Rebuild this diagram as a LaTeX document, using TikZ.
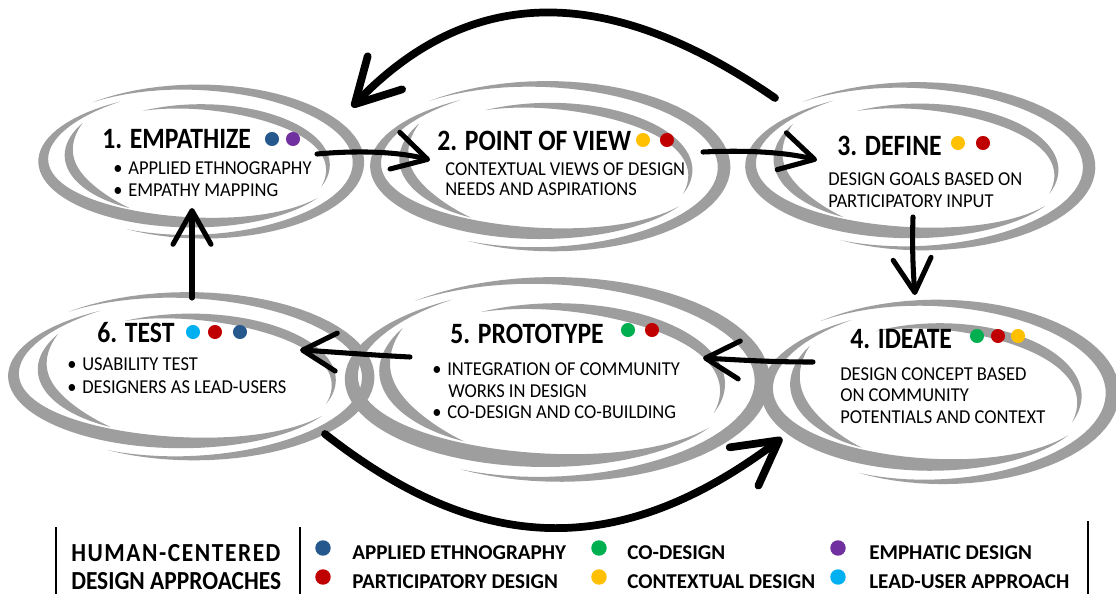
\documentclass[tikz,border=0pt]{standalone}
\usepackage{fontspec}
\setmainfont{Carlito}
\usetikzlibrary{arrows.meta}

\definecolor{swirlgray}{RGB}{158,158,158}
\definecolor{ethno}{RGB}{37,88,140}
\definecolor{partic}{RGB}{192,0,0}
\definecolor{codes}{RGB}{0,176,80}
\definecolor{context}{RGB}{255,192,0}
\definecolor{emphat}{RGB}{112,48,160}
\definecolor{leaduser}{RGB}{0,176,240}

% one tapered grey band of a spiral:
% centre x, centre y, radius x, radius y, from, to, width, scale at from, scale at to
\newcommand{\crescent}[9]{%
  \fill[swirlgray] plot[domain=#5:#6,samples=60,variable=\t]
      ({#1+(#8+(#9-#8)*(\t-(#5))/((#6)-(#5)))*#3*cos(\t)},
       {#2-(#8+(#9-#8)*(\t-(#5))/((#6)-(#5)))*#4*sin(\t)})
    -- plot[domain=#6:#5,samples=60,variable=\t]
      ({#1+((#8+(#9-#8)*(\t-(#5))/((#6)-(#5)))*#3-#7*sin((\t-(#5))/((#6)-(#5))*180))*cos(\t)},
       {#2-((#8+(#9-#8)*(\t-(#5))/((#6)-(#5)))*#4-#7*sin((\t-(#5))/((#6)-(#5))*180))*sin(\t)}) -- cycle;}

% four bands make one swirl: centre x, centre y, radius x, radius y
\newcommand{\swirl}[4]{%
  \crescent{#1}{#2-0.02*#4}{#3}{#4}{-118}{130}{0.15*#4}{0.98}{1.05}
  \crescent{#1}{#2}{0.97*#3}{0.86*#4}{118}{326}{0.17*#4}{1.1}{0.9}
  \crescent{#1}{#2}{0.8*#3}{0.8*#4}{-21}{117}{0.12*#4}{1}{1}
  \crescent{#1}{#2}{#3}{#4}{143}{232}{0.14*#4}{0.92}{0.72}}

\newcommand{\bul}{\makebox[10.7pt][l]{\textbullet}}

\begin{document}
\begin{tikzpicture}[x=0.025cm,y=-0.025cm,
  stage/.style={anchor=base west,inner sep=0pt,font=\fontsize{21}{25}\selectfont\bfseries\addfontfeature{FakeStretch=0.87}},
  item/.style={anchor=base west,inner sep=0pt,font=\fontsize{14}{17}\selectfont\addfontfeature{FakeStretch=0.94}},
  legtext/.style={anchor=base west,inner sep=0pt,font=\fontsize{15}{18}\selectfont\bfseries},
  legtitle/.style={anchor=base west,inner sep=0pt,font=\fontsize{18.5}{22}\selectfont\bfseries\addfontfeature{FakeStretch=0.9}},
  dot/.style={circle,inner sep=0pt,minimum size=10pt},
  flow/.style={line width=3.6pt,line cap=round,-{Straight Barb[round,length=24pt,width=27pt]}},
  backflow/.style={line width=5.5pt,line cap=round,-{Straight Barb[round,length=31pt,width=34pt]}},
  legbar/.style={line width=2pt}]
\useasboundingbox (0,0) rectangle (1116,594);
\fill[white] (0,0) rectangle (1116,594);

% swirls
\swirl{201}{165}{161}{76}
\swirl{550}{170}{178}{84}
\swirl{920}{170}{173}{83}
\swirl{191}{380}{181}{83}
\swirl{557}{384}{210}{101}
\swirl{940}{396}{177}{91}

% 1
\node (h1) at (102,148)[stage] {1. EMPATHIZE};
\node (d1a) at (272,139)[dot,fill=ethno] {};
\node (d1b) at (293,139)[dot,fill=emphat] {};
\node (t1a) at (113,174)[item] {\bul APPLIED ETHNOGRAPHY};
\node (t1b) at (113,196)[item] {\bul EMPATHY MAPPING};

% 2
\node (h2) at (437,150)[stage] {2. POINT OF VIEW};
\node (d2a) at (643,140)[dot,fill=context] {};
\node (d2b) at (667,140)[dot,fill=partic] {};
\node (t2a) at (445,175)[item] {CONTEXTUAL VIEWS OF DESIGN};
\node (t2b) at (445,195)[item] {NEEDS AND ASPIRATIONS};

% 3
\node (h3) at (837,155)[stage] {3. DEFINE};
\node (d3a) at (958,143)[dot,fill=context] {};
\node (d3b) at (983,143)[dot,fill=partic] {};
\node (t3a) at (828,185)[item] {DESIGN GOALS BASED ON};
\node (t3b) at (828,207)[item] {PARTICIPATORY INPUT};

% 4
\node (h4) at (850,348)[stage] {4. IDEATE};
\node (d4a) at (977,336)[dot,fill=codes] {};
\node (d4b) at (998,336)[dot,fill=partic] {};
\node (d4c) at (1018,336)[dot,fill=context] {};
\node (t4a) at (840,380)[item] {DESIGN CONCEPT BASED};
\node (t4b) at (840,401)[item] {ON COMMUNITY};
\node (t4c) at (840,423)[item] {POTENTIALS AND CONTEXT};

% 5
\node (h5) at (450,343)[stage] {5. PROTOTYPE};
\node (d5a) at (628,330)[dot,fill=codes] {};
\node (d5b) at (652,330)[dot,fill=partic] {};
\node (t5a) at (432,375)[item] {\bul INTEGRATION OF COMMUNITY};
\node (t5b) at (448,397)[item] {WORKS IN DESIGN};
\node (t5c) at (432,418)[item] {\bul CO-DESIGN AND CO-BUILDING};

% 6
\node (h6) at (97,342)[stage] {6. TEST};
\node (d6a) at (193,332)[dot,fill=leaduser] {};
\node (d6b) at (215,332)[dot,fill=partic] {};
\node (d6c) at (240,332)[dot,fill=ethno] {};
\node (t6a) at (67,370)[item] {\bul USABILITY TEST};
\node (t6b) at (67,393)[item] {\bul DESIGNERS AS LEAD-USERS};

% arrow ends
\coordinate (a3s) at (775,98);  \coordinate (a1e) at (352,107);
\coordinate (b1s) at (317,154); \coordinate (b2e) at (430,160);
\coordinate (c2s) at (703,152); \coordinate (c3e) at (817,160);
\coordinate (d3s) at (913,217); \coordinate (d4e) at (915,295);
\coordinate (e4s) at (813,362); \coordinate (e5e) at (703,358);
\coordinate (f5s) at (410,357); \coordinate (f6e) at (300,350);
\coordinate (g6s) at (192,298); \coordinate (g1e) at (192,208);
\coordinate (h6s) at (325,434); \coordinate (h4e) at (782,438);

\draw[backflow] (a3s) .. controls (623,-7) and (480,-26) .. (a1e);
\draw[flow] (b1s) .. controls (360,150) and (400,152) .. (b2e);
\draw[flow] (c2s) .. controls (745,150) and (785,152) .. (c3e);
\draw[flow] (d3s) .. controls (912,245) and (913,270) .. (d4e);
\draw[flow] (e4s) .. controls (770,362) and (740,360) .. (e5e);
\draw[flow] (f5s) .. controls (370,355) and (335,352) .. (f6e);
\draw[flow] (g6s) -- (g1e);
\draw[backflow] (h6s) .. controls (483,558) and (622,558) .. (h4e);

% legend
\draw[legbar] (56,527) -- (56,594);
\draw[legbar] (300,527) -- (300,594);
\draw[legbar] (1088,521) -- (1088,594);
\node (lh1) at (71,561)[legtitle,font=\fontsize{18.5}{22}\selectfont\bfseries\addfontfeature{FakeStretch=0.9,LetterSpace=6}] {HUMAN-CENTERED};
\node (lh2) at (71,589)[legtitle] {DESIGN APPROACHES};
\node (ld1) at (323,548)[dot,fill=ethno,minimum size=11pt] {};
\node (ld2) at (323,577)[dot,fill=partic,minimum size=11pt] {};
\node (ld3) at (599,548)[dot,fill=codes,minimum size=11pt] {};
\node (ld4) at (599,577)[dot,fill=context,minimum size=11pt] {};
\node (ld5) at (838,548)[dot,fill=emphat,minimum size=11pt] {};
\node (ld6) at (838,577)[dot,fill=leaduser,minimum size=11pt] {};
\node (lt1) at (352,559)[legtext] {APPLIED ETHNOGRAPHY};
\node (lt2) at (352,588)[legtext] {PARTICIPATORY DESIGN};
\node (lt3) at (627,559)[legtext] {CO-DESIGN};
\node (lt4) at (627,588)[legtext] {CONTEXTUAL DESIGN};
\node (lt5) at (869,559)[legtext] {EMPHATIC DESIGN};
\node (lt6) at (869,588)[legtext] {LEAD-USER APPROACH};
\end{tikzpicture}
\end{document}
